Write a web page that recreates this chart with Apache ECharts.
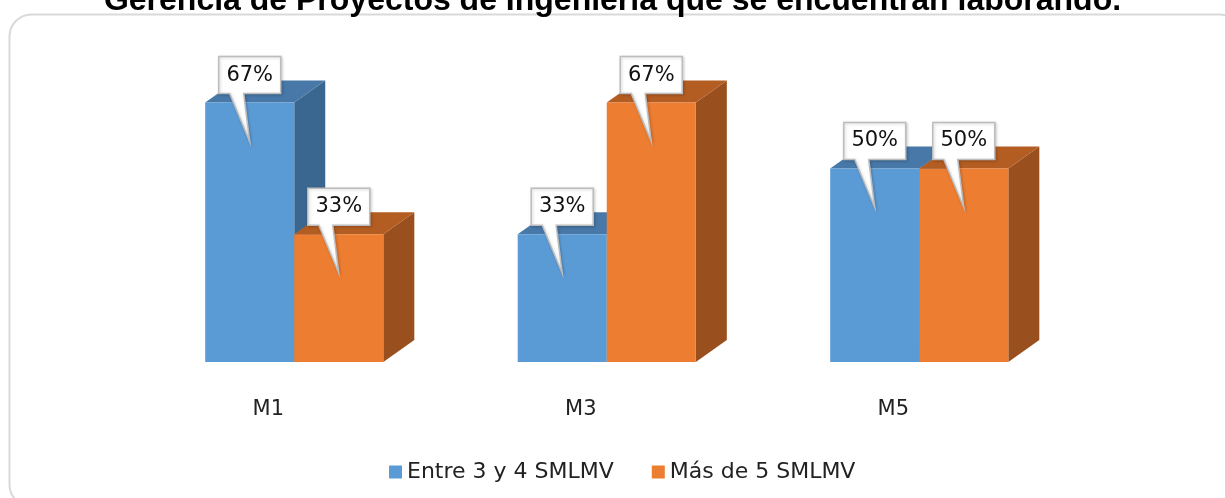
<!DOCTYPE html>
<html>
<head>
<meta charset="utf-8">
<script src="https://cdn.jsdelivr.net/npm/echarts@6/dist/echarts.min.js"></script>
<style>
  html, body { margin: 0; padding: 0; background: #fff; }
  #chart { width: 1225px; height: 498px; }
</style>
</head>
<body>
<div id="chart"></div>
<script>
const titleText = 'Gerencia de Proyectos de Ingeniería que se encuentran laborando.'
const categories = ['M1', 'M3', 'M5']
const entre3y4 = [67, 33, 50]
const masDe5 = [33, 67, 50]
const seriesNames = ['Entre 3 y 4 SMLMV', 'Más de 5 SMLMV']

// front / top / side colours of the fake 3d boxes
const faces = [
  { front: '#5b9bd5', top: '#4778a8', side: '#3a6790' },
  { front: '#ed7d31', top: '#b45d22', side: '#99501e' },
]
const depthX = 31
const depthY = 22

function render3d(side) {
  return function (params, api) {
    const idx = api.value(0)
    const val = api.value(1)
    const base = api.coord([idx, 0])
    const top = api.coord([idx, val])
    const band = api.size([1, 0])[0]
    const w = band * 0.285
    const x0 = side === 0 ? base[0] - w : base[0]
    const x1 = x0 + w
    const y0 = top[1]
    const y1 = base[1]
    const c = faces[side]
    const cx = (x0 + x1) / 2
    // callout box
    const bb = y0 - 9
    const bh = 37
    const bw = 62
    return {
      type: 'group',
      children: [
        {
          type: 'polygon',
          shape: { points: [[x1, y1], [x1 + depthX, y1 - depthY], [x1 + depthX, y0 - depthY], [x1, y0]] },
          style: { fill: c.side },
        },
        {
          type: 'polygon',
          shape: { points: [[x0, y0], [x0 + depthX, y0 - depthY], [x1 + depthX, y0 - depthY], [x1, y0]] },
          style: { fill: c.top },
        },
        {
          type: 'rect',
          shape: { x: x0, y: y0, width: w, height: y1 - y0 },
          style: { fill: c.front },
        },
        {
          type: 'polygon',
          shape: {
            points: [
              [cx - bw / 2, bb - bh], [cx + bw / 2, bb - bh], [cx + bw / 2, bb],
              [cx - 6, bb], [cx, y0 + 39], [cx - 20, bb], [cx - bw / 2, bb],
            ],
          },
          style: {
            fill: '#fff', stroke: '#bdbdbd', lineWidth: 1.5,
            shadowBlur: 3, shadowColor: 'rgba(0,0,0,0.18)', shadowOffsetX: 1, shadowOffsetY: 1,
          },
        },
        {
          type: 'text',
          x: cx,
          y: bb - bh / 2,
          style: {
            text: val + '%',
            fontFamily: 'DejaVu Sans',
            fontSize: 21,
            fill: '#111',
            align: 'center',
            verticalAlign: 'middle',
          },
        },
      ],
    }
  }
}

const chart = echarts.init(document.getElementById('chart'))
const option = {
  backgroundColor: '#fff',
  animation: false,
  title: {
    text: titleText,
    left: 'center',
    top: -20,
    textStyle: { fontFamily: 'Liberation Sans', fontWeight: 'bold', fontSize: 32, color: '#000' },
  },
  graphic: [
    {
      type: 'rect',
      z: -10,
      shape: { x: 9.5, y: 14.5, width: 1232, height: 492, r: 22 },
      style: { fill: 'none', stroke: '#d9d9d9', lineWidth: 2 },
    },
  ],
  legend: {
    left: 384,
    top: 456,
    icon: 'rect',
    itemWidth: 13,
    itemHeight: 13,
    itemGap: 38,
    textStyle: { fontFamily: 'DejaVu Sans', fontSize: 22, color: '#222' },
    data: [
      { name: seriesNames[0], itemStyle: { color: faces[0].front } },
      { name: seriesNames[1], itemStyle: { color: faces[1].front } },
    ],
  },
  grid: { left: 138, right: 149.5, top: 91, bottom: 136 },
  xAxis: {
    type: 'category',
    data: categories,
    axisLine: { show: false },
    axisTick: { show: false },
    axisLabel: {
      margin: 37,
      fontFamily: 'DejaVu Sans',
      fontSize: 21,
      color: '#222',
      padding: [0, 52, 0, 0],
    },
  },
  yAxis: {
    type: 'value',
    min: 0,
    max: 70,
    show: false,
    splitLine: { show: false },
  },
  series: [
    {
      name: seriesNames[0],
      type: 'custom',
      itemStyle: { color: faces[0].front },
      renderItem: render3d(0),
      encode: { x: 0, y: 1 },
      data: entre3y4.map((v, i) => [i, v]),
    },
    {
      name: seriesNames[1],
      type: 'custom',
      itemStyle: { color: faces[1].front },
      renderItem: render3d(1),
      encode: { x: 0, y: 1 },
      data: masDe5.map((v, i) => [i, v]),
    },
  ],
}
chart.setOption(option)
</script>
</body>
</html>
